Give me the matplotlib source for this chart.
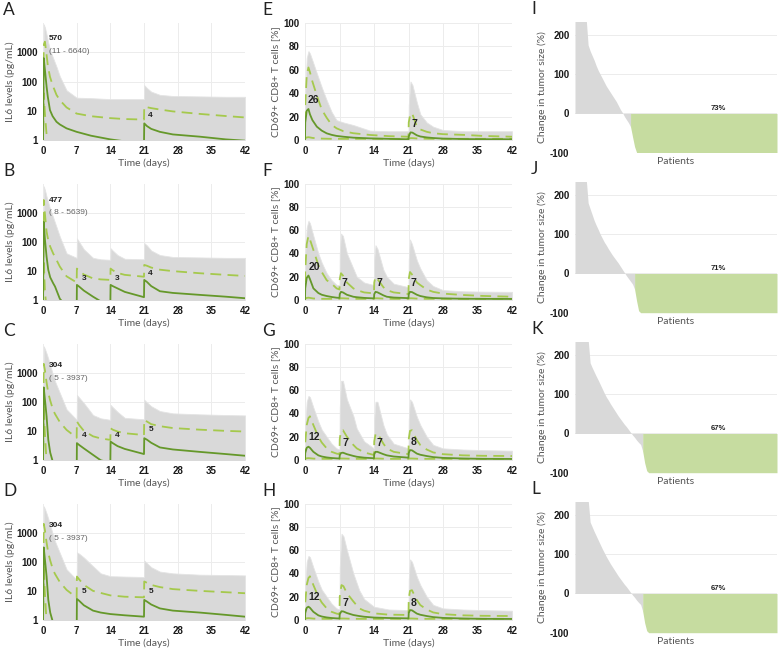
import numpy as np
import matplotlib
matplotlib.use("Agg")
import matplotlib.pyplot as plt

# ---------------- data: IL6 (pg/mL) ----------------
il6_A_t = [0, 0.15, 0.4, 0.75, 1.0, 1.45, 2.0, 2.8, 3.5, 4.9, 7, 10, 14, 17, 21, 21.05, 21.6, 22.5, 24.3, 27, 32.6, 38, 42]
il6_A_med = [0.5, 630, 250, 66, 30, 10.5, 6.5, 4.2, 3.4, 2.5, 1.9, 1.4, 1.05, 0.9, 0.8, 3.7, 3.0, 2.4, 1.9, 1.55, 1.3, 1.05, 0.95]
il6_A_p95 = [0.5, 1800, 2300, 800, 350, 145, 75, 35, 23, 13, 8, 6.5, 5.6, 5.2, 5.0, 14, 13.2, 12.3, 11, 9.5, 7.8, 6.6, 5.9]
il6_A_p5 = [0.5, 40, 8, 1.5, 0.6, 0.4, 0.3, 0.3, 0.3, 0.3, 0.3, 0.3, 0.3, 0.3, 0.3, 0.3, 0.3, 0.3, 0.3, 0.3, 0.3, 0.3, 0.3]
il6_A_up = [0.5, 9000, 7000, 4000, 2500, 1200, 700, 320, 150, 50, 28, 27, 25, 25, 25, 75, 60, 45, 35, 32, 31, 30, 30]

il6_B_t = [0, 0.15, 0.4, 0.75, 1.1, 1.5, 2.1, 2.5, 3.5, 4.9, 7, 7.05, 7.5, 8.5, 10.4, 12, 14, 14.05, 14.5, 15.5, 17, 21, 21.05, 21.6, 22.5, 24.3, 27, 32.6, 38, 42]
il6_B_med = [0.5, 480, 120, 30, 10.7, 6, 3.8, 2.9, 1.1, 0.6, 0.4, 3.3, 2.9, 2.1, 1.3, 0.9, 0.7, 3.3, 3.0, 2.5, 1.9, 1.25, 4.9, 4.2, 3.0, 2.0, 1.75, 1.5, 1.3, 1.15]
il6_B_p95 = [0.5, 2700, 900, 220, 110, 68, 40, 30, 14, 6.5, 4, 12, 10, 7.5, 5.5, 5.1, 4.9, 12, 10.5, 8.5, 7.3, 6.3, 16, 15, 13, 11, 9.8, 8.3, 7.3, 6.7]
il6_B_p5 = [0.5, 24, 2, 0.5, 0.3, 0.3, 0.3, 0.3, 0.3, 0.3, 0.3, 0.3, 0.3, 0.3, 0.3, 0.3, 0.3, 0.3, 0.3, 0.3, 0.3, 0.3, 0.3, 0.3, 0.3, 0.3, 0.3, 0.3, 0.3, 0.3]
il6_B_up = [0.5, 8000, 6000, 3500, 2200, 1300, 700, 450, 150, 40, 28, 130, 100, 55, 28, 25, 24, 60, 50, 35, 26, 25, 90, 75, 50, 35, 30, 29, 28, 28]

il6_C_t = [0, 0.15, 0.4, 0.75, 1.1, 1.5, 2.1, 2.5, 3.5, 4.9, 7, 7.05, 7.5, 8.5, 10.4, 12, 14, 14.05, 14.5, 15.5, 17, 21, 21.05, 21.6, 22.5, 24.3, 27, 32.6, 38, 42]
il6_C_med = [0.5, 310, 120, 31, 4.9, 1.8, 0.8, 0.6, 0.4, 0.3, 0.3, 3.8, 3.3, 2.5, 1.5, 0.98, 0.8, 4.3, 3.8, 3.0, 2.4, 1.6, 5.6, 5.0, 3.9, 2.7, 2.3, 1.9, 1.6, 1.4]
il6_C_p95 = [0.5, 2000, 1200, 450, 200, 110, 52, 38, 20, 10.8, 5.8, 21, 16, 10, 6.5, 5.5, 4.9, 12.3, 11, 9.5, 8.3, 7.2, 24, 21, 17, 14.5, 12.5, 11, 10, 9.5]
il6_C_p5 = [0.5, 80, 8, 0.8, 0.3, 0.3, 0.3, 0.3, 0.3, 0.3, 0.3, 0.3, 0.3, 0.3, 0.3, 0.3, 0.3, 0.3, 0.3, 0.3, 0.3, 0.3, 0.3, 0.3, 0.3, 0.3, 0.3, 0.3, 0.3, 0.3]
il6_C_up = [0.5, 8000, 6500, 4500, 3000, 1800, 800, 500, 200, 55, 24, 170, 140, 90, 35, 27, 24, 78, 65, 45, 28, 25, 117, 95, 70, 48, 40, 37, 35, 34]

il6_D_t = [0, 0.15, 0.4, 0.75, 1.1, 1.5, 2.1, 2.5, 3.5, 4.9, 7, 7.05, 7.5, 8.5, 10.4, 12, 14, 17, 21, 21.05, 21.6, 22.5, 24.3, 27, 32.6, 38, 42]
il6_D_med = [0.5, 310, 120, 31, 4.9, 1.8, 0.8, 0.6, 0.4, 0.3, 0.3, 5.3, 4.6, 3.2, 2.1, 1.8, 1.6, 1.45, 1.3, 4.9, 4.3, 3.4, 2.5, 2.1, 1.8, 1.5, 1.3]
il6_D_p95 = [0.5, 2000, 1200, 450, 200, 110, 52, 38, 20, 10.8, 5.8, 31, 25, 16, 10, 8.5, 7, 6.3, 6, 21, 19, 16, 13.5, 11.5, 10, 9, 8.3]
il6_D_p5 = [0.5, 80, 8, 0.8, 0.3, 0.3, 0.3, 0.3, 0.3, 0.3, 0.3, 0.3, 0.3, 0.3, 0.3, 0.3, 0.3, 0.3, 0.3, 0.3, 0.3, 0.3, 0.3, 0.3, 0.3, 0.3, 0.3]
il6_D_up = [0.5, 8000, 6500, 4500, 3000, 1800, 800, 500, 200, 55, 24, 210, 190, 140, 70, 40, 32, 31, 30, 110, 90, 65, 46, 40, 36, 35, 34]

# ---------------- data: CD69+ CD8+ T cells (%) ----------------
cd_E_t = [0, 0.05, 0.35, 0.7, 1.0, 1.5, 2.4, 3.4, 4.4, 5.4, 6.4, 7.8, 9.8, 13.2, 17, 21, 21.05, 21.4, 21.8, 22.7, 23.4, 24.7, 26, 28, 32.6, 36, 42]
cd_E_med = [0.5, 15, 25, 26.5, 22, 17, 11.4, 8, 5.7, 4.4, 3.5, 2.8, 2, 1.4, 1.0, 0.6, 3, 6.5, 6.3, 4, 3, 2.2, 1.7, 1.2, 0.8, 0.7, 0.6]
cd_E_p95 = [0.5, 30, 55, 62, 58, 50, 38, 26, 19, 13, 10, 7.5, 5.8, 4.3, 3.3, 2.8, 15, 23, 22, 11.4, 9, 7, 5.8, 5, 4.3, 3.5, 2.8]
cd_E_p5 = [0.5, 1.5, 2.2, 2.4, 2.2, 1.8, 1.4, 1.2, 1.1, 1.0, 1.0, 1.0, 1.0, 1.0, 1.0, 1.0, 1.2, 1.6, 1.6, 1.3, 1.2, 1.1, 1.0, 1.0, 1.0, 1.0, 1.0]
cd_E_up = [0.5, 40, 70, 76, 74, 68, 57, 45, 34, 24, 17, 15, 12.8, 8, 7.5, 7.5, 30, 50, 47, 32, 22, 15, 11.4, 8.5, 7.5, 7.5, 7.5]

cd_F_t = [0, 0.05, 0.35, 0.7, 1.0, 1.7, 2.7, 3.4, 4.4, 5.4, 6.4, 7, 7.05, 7.3, 7.7, 8.5, 9.8, 10.5, 12, 14, 14.05, 14.3, 14.7, 15.9, 16.6, 18, 21, 21.05, 21.3, 21.7, 22.7, 23.4, 24.7, 26, 28, 32, 36, 42]
cd_F_med = [0.5, 10, 19, 21, 18, 10, 6, 4.5, 3.4, 2.6, 2, 1.8, 5, 7, 6.5, 4.5, 2.8, 2.4, 1.8, 1.4, 5, 7, 6.6, 4, 2.8, 2.1, 1.6, 5, 7, 6.8, 4.5, 3.4, 2.3, 1.7, 1.4, 1.1, 1.0, 0.9]
cd_F_p95 = [0.5, 25, 48, 55, 52, 43, 30, 24, 17, 14, 10, 9, 18, 23, 21, 15, 10, 8.5, 6.5, 5.7, 15, 20, 18, 11, 8.5, 6.5, 5.1, 18, 24, 22, 15, 12.8, 9, 7, 5.5, 4.3, 3.5, 2.8]
cd_F_p5 = [0.5, 1.2, 1.8, 2.0, 1.8, 1.3, 1.1, 1.0, 1.0, 1.0, 1.0, 1.0, 1.2, 1.5, 1.5, 1.3, 1.1, 1.0, 1.0, 1.0, 1.2, 1.5, 1.5, 1.2, 1.1, 1.0, 1.0, 1.2, 1.5, 1.5, 1.2, 1.1, 1.0, 1.0, 1.0, 1.0, 1.0, 1.0]
cd_F_up = [0.5, 40, 62, 68, 66, 55, 40, 32, 23, 17, 13, 12.8, 40, 57, 55, 40, 27, 20, 15, 12.8, 35, 47, 44, 26, 20, 14, 11, 35, 52, 48, 34, 27, 17, 12, 8.5, 7.5, 7.2, 7]

cd_G_t = [0, 0.05, 0.35, 0.7, 1.0, 1.7, 2.7, 3.4, 4.4, 5.4, 6.4, 7, 7.05, 7.3, 7.7, 8.5, 9.8, 10.5, 12, 14, 14.05, 14.3, 14.7, 15.9, 16.6, 18, 21, 21.05, 21.3, 21.7, 22.7, 23.4, 24.7, 26, 28, 32, 36, 42]
cd_G_med = [0.5, 6, 10.5, 11.4, 10.5, 7, 4, 3, 2.2, 1.7, 1.4, 1.3, 4, 6, 6.3, 5, 3.5, 2.8, 2, 1.5, 5, 7, 7, 5, 4, 3, 2, 6, 8.5, 8.3, 5.5, 4.5, 3.4, 2.5, 1.8, 1.3, 1.0, 0.9]
cd_G_p95 = [0.5, 15, 30, 36, 37.5, 30, 20, 15, 10, 7, 5.5, 5, 18, 25, 25.6, 20, 13, 10, 6.5, 4.3, 16, 22, 23, 14, 10, 7, 5, 18, 25, 25.6, 17, 12.8, 9, 6.5, 5, 4, 3.6, 3.4]
cd_G_p5 = [0.5, 1.0, 1.5, 1.6, 1.5, 1.2, 1.0, 1.0, 1.0, 1.0, 1.0, 1.0, 1.1, 1.3, 1.3, 1.2, 1.0, 1.0, 1.0, 1.0, 1.1, 1.3, 1.3, 1.1, 1.0, 1.0, 1.0, 1.1, 1.3, 1.3, 1.1, 1.0, 1.0, 1.0, 1.0, 1.0, 1.0, 1.0]
cd_G_up = [0.5, 30, 50, 55, 54, 45, 33, 26, 20, 14, 10, 9, 45, 68, 68, 52, 38, 27, 16, 10, 35, 50, 50, 30, 22, 14, 10, 35, 52, 50, 37, 30, 20, 13, 10, 9, 8.5, 8]

cd_H_t = [0, 0.05, 0.35, 0.7, 1.0, 1.7, 2.7, 3.4, 4.4, 5.4, 6.4, 7, 7.05, 7.4, 7.8, 8.5, 9.8, 11, 12, 14, 17, 21, 21.05, 21.3, 21.7, 22.7, 23.4, 24.7, 26, 28, 32, 36, 42]
cd_H_med = [0.5, 6, 10.5, 11.4, 10.5, 7, 4, 3, 2.2, 1.7, 1.4, 1.3, 5, 7.5, 7.3, 6, 4.3, 3.4, 2.8, 2.1, 1.7, 1.4, 6, 8.5, 8.3, 5.5, 4.5, 3.4, 2.5, 1.8, 1.3, 1.0, 0.9]
cd_H_p95 = [0.5, 15, 30, 36, 37.5, 30, 20, 15, 10, 7, 5.5, 5, 20, 30, 29, 23, 16, 10, 8, 5.7, 4.6, 4.3, 18, 25, 25.6, 17, 12.8, 9, 6.5, 5, 4, 3.6, 3.4]
cd_H_p5 = [0.5, 1.0, 1.5, 1.6, 1.5, 1.2, 1.0, 1.0, 1.0, 1.0, 1.0, 1.0, 1.1, 1.3, 1.3, 1.2, 1.0, 1.0, 1.0, 1.0, 1.0, 1.0, 1.1, 1.3, 1.3, 1.1, 1.0, 1.0, 1.0, 1.0, 1.0, 1.0, 1.0]
cd_H_up = [0.5, 30, 50, 55, 54, 45, 33, 26, 20, 14, 10, 9, 45, 74, 72, 60, 40, 25.6, 18, 11.4, 9, 8.5, 35, 52, 50, 37, 30, 20, 13, 10, 9, 8.5, 8]

# ---------------- data: waterfall (change in tumor size, %) ----------------
wf_I = [300, 290, 280, 270, 260, 245, 175, 160, 148, 136, 122, 110, 100, 90, 80, 70, 62, 54, 46, 38,
        30, 20, 10, 2, -8, -16, -24] + [-34, -60, -85] + [-100] * 70
wf_J = [300, 290, 280, 270, 260, 245, 180, 165, 150, 135, 123, 112, 100, 90, 80, 72, 63, 55, 47, 40,
        33, 26, 18, 10, 2, -6, -13, -20, -27] + [-40, -70, -95] + [-100] * 68
wf_K = [300, 290, 280, 270, 260, 250, 240, 180, 168, 157, 146, 136, 125, 114, 103, 93, 85, 76, 68, 60,
        52, 44, 37, 30, 23, 17, 10, 3, -4, -10, -17, -23, -28] + [-45, -75, -95] + [-100] * 64
wf_L = [300, 290, 280, 270, 260, 250, 240, 182, 170, 158, 147, 136, 125, 114, 104, 94, 85, 76, 68, 60,
        52, 44, 37, 30, 23, 17, 10, 3, -4, -10, -17, -23, -28] + [-45, -75, -95] + [-100] * 64
wf_pct = ["73%", "71%", "67%", "67%"]
response_cut = -30

# ---------------- annotations ----------------
il6_peak_txt = ["570", "477", "304", "304"]
il6_range_txt = ["(11 - 6640)", "( 8 - 5639)", "( 5 - 3937)", "( 5 - 3937)"]
il6_peak_y = [3000, 2580, 1780, 1780]
il6_range_y = [1100, 1000, 650, 650]
il6_dose_lbl = [
    [(21.8, 7.1, "4")],
    [(8.0, 5.6, "3"), (14.9, 5.6, "3"), (21.8, 8.3, "4")],
    [(8.0, 6.7, "4"), (14.9, 6.7, "4"), (21.9, 10.8, "5")],
    [(8.0, 9.7, "5"), (21.9, 9.7, "5")],
]
cd_dose_lbl = [
    [(0.5, 34, "26"), (21.6, 14, "7")],
    [(0.7, 28, "20"), (7.5, 14.2, "7"), (14.5, 14.2, "7"), (21.4, 14.2, "7")],
    [(0.7, 20, "12"), (7.7, 14.2, "7"), (14.6, 14.2, "7"), (21.5, 15.6, "8")],
    [(0.7, 20, "12"), (7.7, 14.8, "7"), (21.5, 14.8, "8")],
]

days = [0, 7, 14, 21, 28, 35, 42]

# ---------------- styling ----------------
W, H = 778, 650
plt.rcParams["font.family"] = ["Liberation Sans", "DejaVu Sans"]
fig = plt.figure(figsize=(W / 100, H / 100), dpi=100)

GRAY = "#d9d9d9"
GRID = "#ececec"
MED = "#65982a"
PCT = "#a5c94c"
WGREEN = "#c6dca0"
TICK = "#1a1a1a"
LAB = "#555555"
LABFONT = ["Lato", "DejaVu Sans"]


def px_axes(l, t, r, b):
    return fig.add_axes([l / W, 1 - b / H, (r - l) / W, (b - t) / H])


def style(ax):
    for s in ax.spines.values():
        s.set_visible(False)
    ax.tick_params(length=0, labelsize=7, colors=TICK, pad=4)
    for lbl in ax.get_xticklabels() + ax.get_yticklabels():
        lbl.set_fontweight("bold")
    ax.set_axisbelow(True)


row_top = [23, 183.5, 343.5, 503.5]
row_bot = [140, 300, 460, 620]
wf_top = [22, 181.7, 341.7, 501.7]
wf_bot = [152.5, 312.7, 472.7, 632.7]
letters = [["A", "B", "C", "D"], ["E", "F", "G", "H"], ["I", "J", "K", "L"]]
letter_x = [3, 262, 531]

il6_sets = [
    (il6_A_t, il6_A_up, il6_A_med, il6_A_p95, il6_A_p5),
    (il6_B_t, il6_B_up, il6_B_med, il6_B_p95, il6_B_p5),
    (il6_C_t, il6_C_up, il6_C_med, il6_C_p95, il6_C_p5),
    (il6_D_t, il6_D_up, il6_D_med, il6_D_p95, il6_D_p5),
]
cd_sets = [
    (cd_E_t, cd_E_up, cd_E_med, cd_E_p95, cd_E_p5),
    (cd_F_t, cd_F_up, cd_F_med, cd_F_p95, cd_F_p5),
    (cd_G_t, cd_G_up, cd_G_med, cd_G_p95, cd_G_p5),
    (cd_H_t, cd_H_up, cd_H_med, cd_H_p95, cd_H_p5),
]
wf_sets = [wf_I, wf_J, wf_K, wf_L]


def draw_traj(ax, t, up, med, p95, p5, base):
    ax.fill_between(t, base, up, color=GRAY, linewidth=0.6, edgecolor="#e4e4e4", zorder=1)
    ax.plot(t, p95, color=PCT, lw=1.3, dashes=(6, 3.5), zorder=3)
    ax.plot(t, p5, color=PCT, lw=1.3, dashes=(6, 3.5), zorder=3)
    ax.plot(t, med, color=MED, lw=1.3, zorder=4)


for r in range(4):
    # ---- IL6 ----
    ax = px_axes(43, row_top[r], 245, row_bot[r])
    t, up, med, p95, p5 = il6_sets[r]
    draw_traj(ax, t, up, med, p95, p5, 0.5)
    ax.set_yscale("log")
    ax.set_ylim(1, 10000)
    ax.set_xlim(0, 42)
    ax.set_yticks([1, 10, 100, 1000])
    ax.set_yticklabels(["1", "10", "100", "1000"])
    ax.yaxis.set_minor_locator(matplotlib.ticker.NullLocator())
    ax.set_xticks(days)
    ax.set_xticklabels([str(d) for d in days])
    ax.grid(True, color=GRID, lw=0.7)
    style(ax)
    ax.set_xlabel("Time (days)", fontsize=7.5, color=LAB, family=LABFONT, labelpad=2)
    ax.set_ylabel("IL6 levels (pg/mL)", fontsize=7.5, color=LAB, family=LABFONT)
    ax.yaxis.set_label_coords(-0.139, 0.5)
    ax.text(1.25, il6_peak_y[r], il6_peak_txt[r], fontsize=6, fontweight="bold", color="#222222",
            va="center", ha="left", zorder=6)
    ax.text(1.25, il6_range_y[r], il6_range_txt[r], fontsize=6, color="#666666",
            va="center", ha="left", zorder=6)
    for (xx, yy, s) in il6_dose_lbl[r]:
        ax.text(xx, yy, s, fontsize=6, fontweight="bold", color="#222222", va="center", ha="left", zorder=6)

    # ---- CD69 ----
    ax = px_axes(305, row_top[r], 512, row_bot[r])
    t, up, med, p95, p5 = cd_sets[r]
    draw_traj(ax, t, up, med, p95, p5, 0)
    ax.set_ylim(0, 100)
    ax.set_xlim(0, 42)
    ax.set_yticks([0, 20, 40, 60, 80, 100])
    ax.set_yticklabels(["0", "20", "40", "60", "80", "100"])
    ax.set_xticks(days)
    ax.set_xticklabels([str(d) for d in days])
    ax.grid(True, color=GRID, lw=0.7)
    style(ax)
    ax.set_xlabel("Time (days)", fontsize=7.5, color=LAB, family=LABFONT, labelpad=2)
    ax.set_ylabel("CD69+ CD8+ T cells [%]", fontsize=7.5, color=LAB, family=LABFONT)
    ax.yaxis.set_label_coords(-0.121, 0.5)
    for (xx, yy, s) in cd_dose_lbl[r]:
        ax.text(xx, yy, s, fontsize=7.5, fontweight="bold", color="#222222", va="center", ha="left", zorder=6)

    # ---- waterfall (sorted patients, smooth area) ----
    ax = px_axes(575, wf_top[r], 777, wf_bot[r])
    vals = np.array(wf_sets[r], dtype=float)
    n = len(vals)
    xc = np.arange(n) + 0.5
    k = int(np.argmax(vals <= response_cut))  # first responder
    gx = np.r_[0, xc[:k + 1]]
    gy = np.r_[vals[0], vals[:k + 1]]
    ax.fill_between(gx, 0, gy, color=GRAY, linewidth=0, zorder=2)
    rx = np.r_[xc[k], xc[k:], n]
    ry = np.r_[0, vals[k:], vals[-1]]
    ax.fill_between(rx, 0, ry, color=WGREEN, linewidth=0, zorder=3)
    ax.set_xlim(0, n)
    ax.set_ylim(-100, 234)
    ax.set_yticks([-100, 0, 100, 200])
    ax.set_yticklabels(["-100", "0", "100", "200"])
    ax.set_xticks([])
    ax.grid(True, axis="y", color=GRID, lw=0.7)
    style(ax)
    ax.set_xlabel("Patients", fontsize=7.5, color=LAB, family=LABFONT, labelpad=3)
    ax.set_ylabel("Change in tumor size (%)", fontsize=7.5, color=LAB, family=LABFONT)
    ax.yaxis.set_label_coords(-0.139, 0.5)
    ax.text(0.71 * n, 12, wf_pct[r], fontsize=5.5, fontweight="bold", color="#222222",
            ha="center", va="center", zorder=6)

# panel letters
for c in range(3):
    for r in range(4):
        top = (row_top[r] if c < 2 else wf_top[r]) - 21
        fig.text(letter_x[c] / W, 1 - top / H, letters[c][r], fontsize=12.5, color="#222222",
                 family=LABFONT, va="top", ha="left")

fig.savefig("out.png", dpi=100)
